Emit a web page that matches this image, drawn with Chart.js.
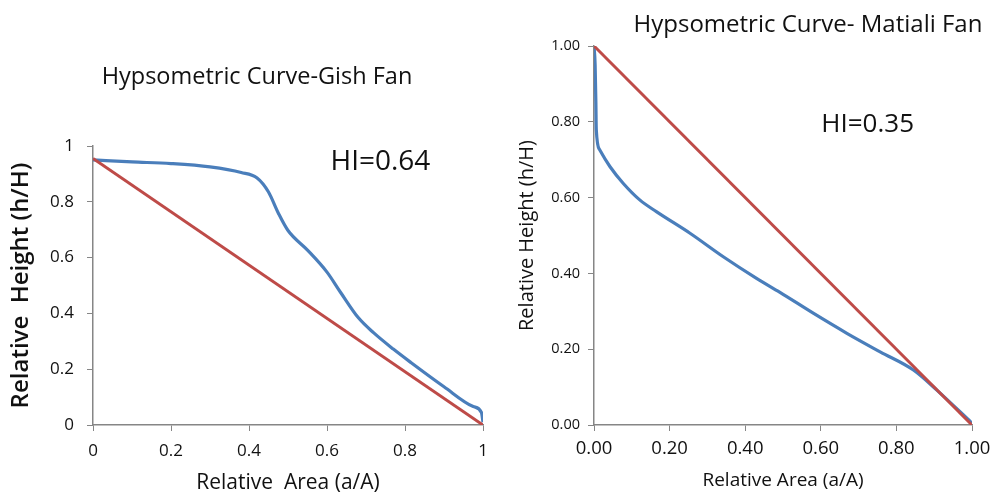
<!DOCTYPE html>
<html>
<head>
<meta charset="utf-8">
<script src="https://cdn.jsdelivr.net/npm/chart.js@4"></script>
<style>
  body { margin: 0; background: #fff; }
  .box { position: absolute; top: 0; height: 501px; }
  #left { left: 0; width: 505px; }
  #right { left: 505px; width: 500px; }
</style>
</head>
<body>
<div class="box" id="left"><canvas id="gish"></canvas></div>
<div class="box" id="right"><canvas id="matiali"></canvas></div>
<script>
// Gish Fan hypsometric curve
const gishArea   = [0, 0.1, 0.2, 0.3, 0.38, 0.42, 0.45, 0.475, 0.5, 0.55, 0.6, 0.635, 0.68, 0.72, 0.77, 0.815, 0.9, 0.975, 0.996, 1];
const gishHeight = [0.95, 0.943, 0.937, 0.925, 0.905, 0.886, 0.835, 0.76, 0.697, 0.627, 0.548, 0.475, 0.385, 0.33, 0.272, 0.224, 0.137, 0.066, 0.045, 0.01];
const gishRefArea   = [0, 1];
const gishRefHeight = [0.955, 0];

// Matiali Fan hypsometric curve
const matialiArea   = [0, 0.003, 0.005, 0.006, 0.015, 0.042, 0.077, 0.121, 0.165, 0.254, 0.342, 0.43, 0.492, 0.58, 0.669, 0.757, 0.845, 0.907, 1];
const matialiHeight = [1.0, 0.95, 0.85, 0.78, 0.726, 0.682, 0.638, 0.594, 0.563, 0.506, 0.444, 0.387, 0.35, 0.295, 0.242, 0.193, 0.145, 0.092, 0.005];
const matialiRefArea   = [0, 1];
const matialiRefHeight = [1.0, 0];

const tickValues = [0, 0.2, 0.4, 0.6, 0.8, 1];

const blue = '#4A7EBB', red = '#BE4B48', axisGray = '#868686';
const fontFamily = '"Open Sans", sans-serif';

const toPoints = (xs, ys) => xs.map((x, i) => ({ x, y: ys[i] }));

// draws the chart heading and the HI note
const notesPlugin = {
  id: 'notes',
  afterDraw(chart, args, opts) {
    const { ctx, scales } = chart;
    ctx.save();
    ctx.fillStyle = '#111';
    ctx.textAlign = 'center';
    ctx.textBaseline = 'alphabetic';
    ctx.font = `${opts.titleSize}px ${fontFamily}`;
    ctx.fillText(opts.title, opts.titleX, opts.titleY);
    ctx.font = `${opts.hiSize}px ${fontFamily}`;
    ctx.fillText(opts.hi, scales.x.getPixelForValue(opts.hiAt[0]), scales.y.getPixelForValue(opts.hiAt[1]));
    ctx.restore();
  }
};

function fixedSize(w, h) {
  return scale => {
    if (w != null) scale.width = w;
    if (h != null) scale.height = h;
  };
}

function makeChart(id, s) {
  return new Chart(document.getElementById(id), {
    type: 'scatter',
    data: {
      datasets: [
        { data: toPoints(s.refX, s.refY), borderColor: red, borderWidth: 3, showLine: true, pointRadius: 0, tension: 0 },
        { data: toPoints(s.curveX, s.curveY), borderColor: blue, borderWidth: 3.2, showLine: true, pointRadius: 0, cubicInterpolationMode: 'monotone' }
      ]
    },
    options: {
      responsive: true,
      maintainAspectRatio: false,
      animation: false,
      layout: { padding: { top: s.top, right: s.right, left: 0, bottom: 0 } },
      plugins: {
        legend: { display: false },
        tooltip: { enabled: false },
        notes: s.notes
      },
      scales: {
        x: {
          min: 0, max: 1,
          afterBuildTicks: sc => { sc.ticks = tickValues.map(v => ({ value: v })); },
          afterFit: fixedSize(null, 76),
          grid: { drawOnChartArea: false, drawTicks: true, tickLength: 6, color: axisGray },
          border: { color: axisGray, width: 1.5 },
          ticks: { color: '#111', padding: s.xTickPad, font: { family: fontFamily, size: s.xTickSize }, callback: v => s.fmt(v) },
          title: { display: true, text: s.xTitle, color: '#111', padding: { bottom: s.xTitlePad }, font: { family: fontFamily, size: s.xTitleSize } }
        },
        y: {
          min: 0, max: 1,
          afterBuildTicks: sc => { sc.ticks = tickValues.map(v => ({ value: v })); },
          afterFit: fixedSize(s.left, null),
          grid: { drawOnChartArea: false, drawTicks: true, tickLength: 6, color: axisGray },
          border: { color: axisGray, width: 1.5 },
          ticks: { color: '#111', padding: s.yTickPad, font: { family: fontFamily, size: s.yTickSize }, callback: v => s.fmt(v) },
          title: { display: true, text: s.yTitle, color: '#111', padding: { top: s.yTitlePad }, font: { family: fontFamily, size: s.yTitleSize, weight: s.yTitleWeight } }
        }
      }
    },
    plugins: [notesPlugin]
  });
}

makeChart('gish', {
  curveX: gishArea, curveY: gishHeight, refX: gishRefArea, refY: gishRefHeight,
  top: 146, right: 22, left: 93,
  fmt: v => String(+v.toFixed(1)),
  xTickSize: 17, xTickPad: 10, yTickSize: 17, yTickPad: 13,
  xTitle: 'Relative  Area (a/A)', xTitleSize: 21, xTitlePad: 5,
  yTitle: 'Relative  Height (h/H)', yTitleSize: 24, yTitleWeight: '600', yTitlePad: 7,
  notes: { title: 'Hypsometric Curve-Gish Fan', titleSize: 23.5, titleX: 257, titleY: 84, hi: 'HI=0.64', hiSize: 28, hiAt: [0.737, 0.914] }
});

makeChart('matiali', {
  curveX: matialiArea, curveY: matialiHeight, refX: matialiRefArea, refY: matialiRefHeight,
  top: 46, right: 33, left: 89,
  fmt: v => v.toFixed(2),
  xTickSize: 18.5, xTickPad: 7, yTickSize: 14.5, yTickPad: 8,
  xTitle: 'Relative Area (a/A)', xTitleSize: 19, xTitlePad: 9,
  yTitle: 'Relative Height (h/H)', yTitleSize: 20, yTitleWeight: '500', yTitlePad: 10,
  notes: { title: 'Hypsometric Curve- Matiali Fan', titleSize: 24, titleX: 303, titleY: 32, hi: 'HI=0.35', hiSize: 26, hiAt: [0.724, 0.774] }
});
</script>
</body>
</html>
